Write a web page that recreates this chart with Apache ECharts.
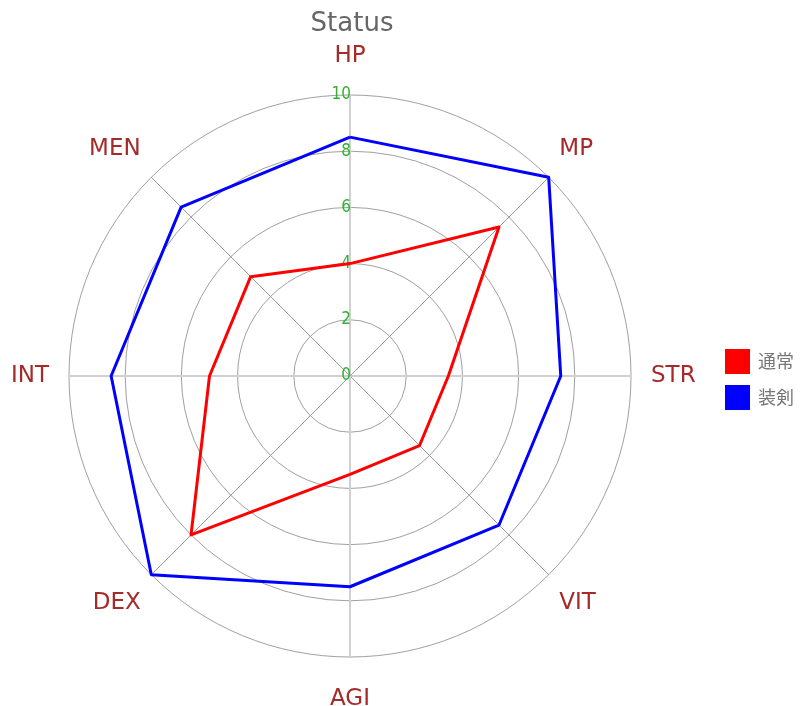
<!DOCTYPE html>
<html>
<head>
<meta charset="utf-8">
<script src="https://cdn.jsdelivr.net/npm/echarts@6/dist/echarts.min.js"></script>
<style>
  html, body { margin: 0; padding: 0; background: #fff; }
  #chart { width: 800px; height: 706px; }
</style>
</head>
<body>
<div id="chart"></div>
<script>
// 能力値データ（時計回り: HP → MP → STR ...）
const indicators = ['HP', 'MP', 'STR', 'VIT', 'AGI', 'DEX', 'INT', 'MEN'];
const seriesNames = ['通常', '装剣'];
const normalValues = [4, 7.5, 3.5, 3.5, 3.5, 8, 5, 5];
const equipValues = [8.5, 10, 7.5, 7.5, 7.5, 10, 8.5, 8.5];
const axisMax = 10;

const chart = echarts.init(document.getElementById('chart'));

// ECharts の radar は反時計回りなので、HP 以外を逆順に並べ直す
const order = indicators.map((_, i) => (indicators.length - i) % indicators.length);
const reorder = (arr) => order.map(i => arr[i]);

const indicatorList = order.map((idx) => {
  const name = indicators[idx];
  const cardinal = idx % 2 === 0;
  let nameGap = 15;
  if (idx === 0) nameGap = 21;
  else if (idx === 4) nameGap = 24;
  else if (cardinal) nameGap = 20;
  const item = {
    name,
    min: 0,
    max: axisMax,
    nameGap,
    axisLine: {
      // 縦横の軸は薄く太め、斜めの軸は細く濃いめ
      lineStyle: cardinal ? { color: '#d0d0d0', width: 2 } : { color: '#999', width: 1 },
    },
  };
  if (idx === 0) {
    item.axisLabel = {
      show: true,
      color: '#33b233',
      fontSize: 17,
      fontFamily: 'DejaVu Sans Condensed, sans-serif',
      margin: -1,
      align: 'right',
      verticalAlign: 'middle',
      showMinLabel: true,
      showMaxLabel: true,
    };
  }
  return item;
});

// 斜めのラベルは空行を足して上下にずらす
const nameFormatter = (name) => {
  if (name === 'MP' || name === 'MEN') return name + '\n';
  if (name === 'VIT' || name === 'DEX') return '\n' + name;
  return name;
};

const option = {
  animation: false,
  backgroundColor: '#fff',
  title: {
    text: 'Status',
    left: 347,
    top: 6,
    textAlign: 'center',
    textStyle: { color: '#666', fontSize: 26, fontWeight: 'normal', fontFamily: 'DejaVu Sans, sans-serif' },
  },
  legend: {
    orient: 'vertical',
    left: 720,
    top: 344,
    itemWidth: 25,
    itemHeight: 25,
    itemGap: 11,
    icon: 'rect',
    data: seriesNames,
    textStyle: { color: '#777', fontSize: 18, padding: [0, 0, 0, 3], fontFamily: 'Noto Sans CJK JP, sans-serif' },
  },
  radar: {
    center: [350, 376],
    radius: 281,
    shape: 'circle',
    splitNumber: 5,
    startAngle: 90,
    indicator: indicatorList,
    axisName: {
      color: '#a52a2a',
      fontSize: 23,
      lineHeight: 36,
      fontFamily: 'DejaVu Sans, sans-serif',
      formatter: nameFormatter,
    },
    axisLabel: { show: false },
    axisTick: { show: false },
    splitLine: { lineStyle: { color: '#a0a0a0', width: 1 } },
    splitArea: { show: false },
  },
  series: [{
    type: 'radar',
    symbol: 'none',
    data: [
      { name: seriesNames[0], value: reorder(normalValues), lineStyle: { color: '#ff0000', width: 3 }, itemStyle: { color: '#ff0000' } },
      { name: seriesNames[1], value: reorder(equipValues), lineStyle: { color: '#0000ff', width: 3 }, itemStyle: { color: '#0000ff' } },
    ],
  }],
};

chart.setOption(option);
</script>
</body>
</html>
